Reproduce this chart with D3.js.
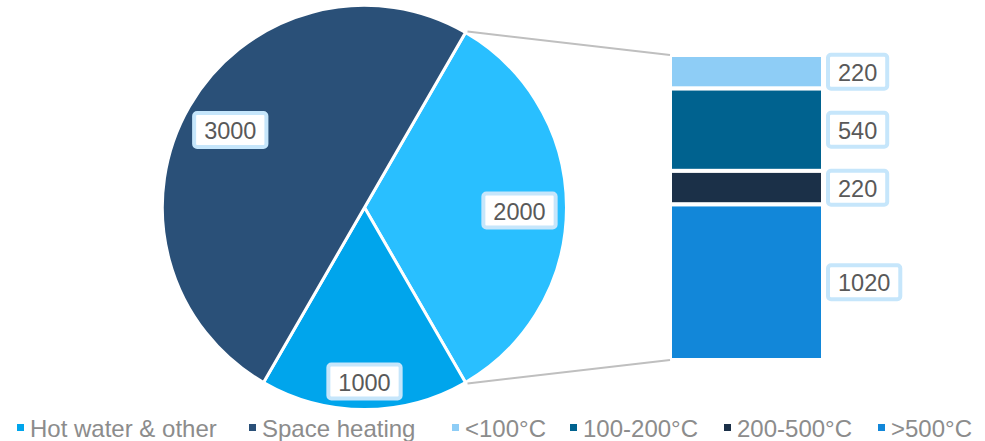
<!DOCTYPE html>
<html><head><meta charset="utf-8">
<script src="https://cdn.jsdelivr.net/npm/d3@7"></script>
<style>
html,body{margin:0;padding:0;background:#fff;}
svg{display:block;font-family:"Liberation Sans",Arial,sans-serif;}
</style></head>
<body><svg id="c" width="985" height="441"></svg>
<script>
// ---- data ----
const pieCategories = ["Industry", "Hot water & other", "Space heating"];
const pieValues = [2000, 1000, 3000];
const pieColors = ["#29BFFF", "#00A5EC", "#2A5078"];

const barCategories = ["<100°C", "100-200°C", "200-500°C", ">500°C"];
const barValues = [220, 540, 220, 1020];
const barColors = ["#8ECDF6", "#00628F", "#1B3048", "#1287D9"];

const legendLabels = ["Hot water & other", "Space heating", "<100°C", "100-200°C", "200-500°C", ">500°C"];
const legendColors = ["#00A5EC", "#2A5078", "#8ECDF6", "#00628F", "#1B3048", "#1287D9"];

// ---- layout ----
const svg = d3.select("#c");
const cx = 364.5, cy = 207.5, R = 202;
const labelFont = 23.5, labelColor = "#595959";

const pie = d3.pie().sort(null).startAngle(Math.PI/6).endAngle(Math.PI/6 + 2*Math.PI);
const arcs = pie(pieValues);
const arc = d3.arc().innerRadius(0).outerRadius(R);

const gPie = svg.append("g").attr("transform", `translate(${cx},${cy})`);
gPie.selectAll("path").data(arcs).join("path")
  .attr("d", arc)
  .attr("fill", (d,i) => pieColors[i])
  .attr("stroke", "#fff").attr("stroke-width", 3).attr("stroke-linejoin","round");

// bar
const total = d3.sum(barValues);
const y = d3.scaleLinear().domain([0, total]).range([55, 360]);
const bx0 = 670, bx1 = 823;
let cum = 0;
const segs = barValues.map((v,i) => { const s = {v, i, y0: cum, y1: cum + v}; cum += v; return s; });
const gBar = svg.append("g");
gBar.selectAll("rect").data(segs).join("rect")
  .attr("x", bx0).attr("width", bx1 - bx0)
  .attr("y", d => y(d.y0)).attr("height", d => y(d.y1) - y(d.y0))
  .attr("fill", d => barColors[d.i])
  .attr("stroke", "#fff").attr("stroke-width", 4);

// connector lines
const a0 = arcs[0].startAngle, a1 = arcs[0].endAngle;
const pt = a => [cx + R*Math.sin(a), cy - R*Math.cos(a)];
const p0 = pt(a0), p1 = pt(a1);
svg.append("line").attr("x1", p0[0]+2).attr("y1", p0[1]-1).attr("x2", bx0).attr("y2", y(0))
  .attr("stroke", "#BFBFBF").attr("stroke-width", 2);
svg.append("line").attr("x1", p1[0]+2).attr("y1", p1[1]+1).attr("x2", bx0).attr("y2", y(total))
  .attr("stroke", "#BFBFBF").attr("stroke-width", 2);

// label helper
function boxLabel(x, yc, text, anchor) {
  const g = svg.append("g");
  const r = g.append("rect");
  const t = g.append("text").text(text)
    .attr("font-size", labelFont).attr("fill", labelColor)
    .attr("dominant-baseline", "central");
  const w = t.node().getComputedTextLength();
  const pad = 12, h = 38;
  const left = anchor === "start" ? x : x - (w/2 + pad);
  t.attr("x", left + pad).attr("y", yc + 1);
  r.attr("x", left + 2).attr("y", yc - h/2 + 2).attr("width", w + 2*pad - 4).attr("height", h - 4)
    .attr("rx", 3).attr("fill", "#fff").attr("stroke", "#C6E6FB").attr("stroke-width", 4);
}

// pie labels
const labelRadii = [155, 174, 155];
arcs.forEach((d, i) => {
  const m = (d.startAngle + d.endAngle)/2;
  const lr = labelRadii[i];
  boxLabel(cx + lr*Math.sin(m), cy - lr*Math.cos(m) + (i===0?3:0), String(d.value), "middle");
});

// bar labels
segs.forEach(d => boxLabel(826, (y(d.y0)+y(d.y1))/2, String(d.v), "start"));

// legend
const legendX = [17, 249, 452, 570, 724, 878];
const legY = 428;
const gLeg = svg.append("g");
legendLabels.forEach((lab, i) => {
  gLeg.append("rect").attr("x", legendX[i]).attr("y", legY - 4).attr("width", 7).attr("height", 7)
    .attr("fill", legendColors[i]);
  gLeg.append("text").attr("x", legendX[i] + 13).attr("y", legY)
    .attr("dominant-baseline", "central")
    .attr("font-size", 24).attr("fill", "#8C8C8C").text(lab);
});
</script>
</body></html>
